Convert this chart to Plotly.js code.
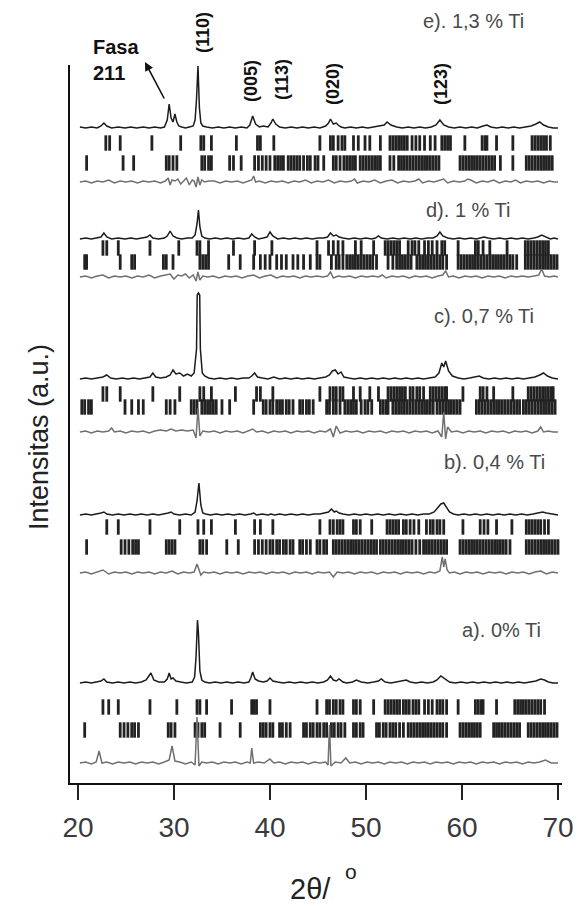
<!DOCTYPE html>
<html>
<head>
<meta charset="utf-8">
<script src="https://cdn.plot.ly/plotly-3.0.1.min.js"></script>
<style>html,body{margin:0;padding:0;background:#fff;}#chart{width:581px;height:906px;}</style>
</head>
<body>
<div id="chart"></div>
<script>
// ---------- DATA (2θ in degrees, intensity in a.u. relative to each pattern's baseline) ----------
const xTicks = [20, 30, 40, 50, 60, 70];
const sampleLabels = ['e). 1,3 % Ti', 'd). 1 % Ti', 'c). 0,7 % Ti', 'b). 0,4 % Ti', 'a). 0% Ti'];
const millerLabels = ['(110)', '(005)', '(113)', '(020)', '(123)'];
const phaseLabel = 'Fasa<br>211';

// e) 1.3 % Ti
const eObs = [[20.2,1],[20.8,0],[21.4,1],[22.0,0],[22.4,2],[22.7,5],[23.0,2],[23.5,0],[24.2,1],[24.9,0],
[25.5,1],[26.1,0],[26.8,1],[27.4,0],[28.0,1],[28.6,0],[29.0,1],[29.3,8],[29.5,24],[29.7,10],
[29.9,6],[30.1,14],[30.3,6],[30.5,2],[30.8,1],[31.2,0],[31.6,1],[32.0,2],[32.2,8],[32.35,29],
[32.5,62],[32.65,20],[32.8,5],[33.0,2],[33.4,1],[34.0,0],[34.6,1],[35.2,0],[35.8,1],[36.4,0],
[37.0,1],[37.6,0],[37.9,3],[38.2,12],[38.5,4],[38.9,1],[39.3,2],[39.8,1],[40.1,5],[40.3,9],
[40.6,4],[41.0,1],[41.6,0],[42.2,1],[42.8,0],[43.4,1],[44.0,0],[44.6,1],[45.2,0],[45.8,2],
[46.1,5],[46.3,9],[46.6,4],[46.9,5],[47.1,3],[47.4,1],[47.8,0],[48.4,1],[49.0,0],[49.6,1],
[50.2,0],[50.8,1],[51.4,2],[51.9,3],[52.2,6],[52.6,3],[53.2,1],[53.8,0],[54.4,1],[55.0,0],
[55.6,1],[56.2,0],[56.8,1],[57.3,3],[57.7,8],[58.1,3],[58.6,1],[59.2,0],[59.8,1],[60.4,0],
[61.0,1],[61.6,0],[62.2,2],[62.6,3],[63.0,1],[63.6,0],[64.2,1],[64.8,0],[65.4,1],[66.0,0],
[66.6,1],[67.2,2],[67.7,4],[68.1,6],[68.5,3],[69.0,1],[69.5,0],[70.0,0]];
const eDiff = [[20.2,0],[20.8,1],[21.4,-1],[22.0,1],[22.6,0],[23.2,2],[23.8,-1],[24.4,1],[25.0,0],[25.6,1],
[26.2,-1],[26.8,1],[27.4,0],[28.0,1],[28.6,-1],[29.1,1],[29.4,4],[29.6,-3],[29.8,2],[30.1,1],
[30.4,3],[30.7,-2],[31.0,1],[31.3,4],[31.6,-3],[31.9,2],[32.1,1],[32.3,-5],[32.5,5],[32.7,-3],
[32.9,2],[33.2,0],[33.6,1],[34.2,1],[34.8,-1],[35.4,1],[36.0,0],[36.6,1],[37.2,-1],[37.8,1],
[38.1,2],[38.3,6],[38.5,0],[38.9,1],[39.5,-1],[40.1,1],[40.7,0],[41.3,1],[41.9,-1],[42.5,1],
[43.1,0],[43.7,2],[44.3,-1],[44.9,1],[45.5,0],[46.1,2],[46.7,-1],[47.3,1],[47.9,0],[48.5,1],
[48.8,3],[49.1,-1],[49.7,1],[50.3,0],[50.9,2],[51.5,-1],[52.1,1],[52.7,2],[53.3,-1],[53.9,1],
[54.5,0],[55.1,1],[55.5,3],[55.9,-1],[56.5,1],[57.1,0],[57.7,2],[58.1,3],[58.5,-1],[59.1,1],
[59.7,0],[60.3,1],[60.6,3],[60.9,2],[61.5,-1],[62.1,1],[62.7,0],[63.3,2],[63.9,-1],[64.5,1],
[65.1,0],[65.6,2],[66.1,-1],[66.7,1],[67.3,0],[67.9,1],[68.5,-1],[69.1,1],[69.6,0],[70.0,0]];
const eRow1 = [22.9,23.3,24.4,27.7,30.7,32.8,33.1,33.9,36.5,38.7,39.0,40.4,45.2,46.3,46.6,47.1,47.5,47.8,48.7,49.2,
49.9,50.4,51.5,52.5,52.8,53.1,53.4,53.7,54.0,54.3,54.8,55.2,55.6,56.1,56.7,57.2,57.9,58.2,58.5,58.8,
60.3,62.1,62.4,62.6,63.6,65.3,67.3,67.6,67.9,68.2,68.5,68.8,69.2];
const eRow2 = [20.9,24.7,25.8,29.2,29.5,29.9,30.3,32.9,33.2,33.6,33.9,35.8,36.2,37.0,38.4,38.8,39.2,39.6,40.0,40.5,
40.8,41.1,41.4,41.9,42.2,42.5,42.8,43.1,43.5,43.9,44.2,44.7,45.0,45.6,46.6,46.9,47.3,47.7,48.0,48.3,
48.6,48.9,49.4,49.7,50.0,50.3,50.6,50.9,51.2,51.5,52.5,52.9,53.4,53.7,54.0,54.3,54.6,54.9,55.2,55.5,
55.8,56.1,56.4,56.7,57.0,57.3,57.6,59.8,60.1,60.4,60.7,61.0,61.3,61.6,61.9,62.2,62.5,62.8,63.1,63.4,
64.0,65.3,66.7,67.0,67.3,67.6,67.9,68.2,68.5,68.8,69.1,69.4];

// d) 1 % Ti
const dObs = [[20.2,0],[20.8,1],[21.4,0],[22.0,1],[22.4,2],[22.7,6],[23.0,2],[23.5,0],[24.2,1],[24.9,0],
[25.5,1],[26.1,0],[26.8,1],[27.2,2],[27.5,4],[27.8,1],[28.4,0],[29.0,1],[29.3,3],[29.6,8],
[29.9,3],[30.3,1],[30.8,0],[31.4,1],[31.9,1],[32.2,4],[32.4,15],[32.55,29],[32.7,12],[32.9,3],
[33.2,1],[33.7,0],[34.3,1],[34.9,0],[35.5,1],[36.1,0],[36.7,1],[37.3,0],[37.8,1],[38.1,5],
[38.4,2],[38.8,0],[39.3,1],[39.7,2],[40.0,7],[40.3,3],[40.8,0],[41.4,1],[42.0,0],[42.6,1],
[43.2,0],[43.8,1],[44.4,0],[45.0,1],[45.6,1],[46.0,2],[46.3,6],[46.6,3],[46.9,4],[47.2,2],
[47.6,1],[48.2,0],[48.8,1],[49.4,0],[50.0,1],[50.6,0],[51.0,1],[51.3,3],[51.6,1],[52.2,0],
[52.8,1],[53.4,0],[54.0,1],[54.6,0],[55.2,1],[55.8,0],[56.4,1],[57.0,1],[57.4,3],[57.7,7],
[58.0,3],[58.5,1],[59.1,0],[59.7,1],[60.3,0],[60.9,1],[61.5,0],[62.0,1],[62.3,2],[62.7,1],
[63.3,0],[63.9,1],[64.5,0],[65.1,1],[65.7,0],[66.3,1],[66.9,0],[67.5,1],[67.9,2],[68.3,4],
[68.7,2],[69.2,0],[69.6,1],[70.0,0]];
const dDiff = [[20.2,0],[20.8,1],[21.4,-1],[22.0,1],[22.6,2],[23.2,-1],[23.8,1],[24.4,0],[25.0,1],[25.6,-1],
[26.2,1],[26.8,0],[27.4,2],[28.0,-1],[28.6,1],[29.2,2],[29.6,3],[30.0,-2],[30.4,2],[30.8,1],
[31.2,3],[31.6,-1],[32.0,2],[32.3,-4],[32.5,5],[32.7,-3],[33.0,1],[33.5,0],[34.1,1],[34.7,-1],
[35.3,1],[35.9,0],[36.5,1],[37.1,-1],[37.7,1],[38.3,2],[38.9,-1],[39.5,1],[40.1,2],[40.7,-1],
[41.3,1],[41.9,0],[42.5,1],[43.1,-1],[43.7,1],[44.3,0],[44.9,1],[45.5,0],[46.0,1],[46.3,5],
[46.6,-1],[47.1,1],[47.7,0],[48.3,1],[48.9,-1],[49.5,1],[50.1,0],[50.7,1],[51.3,0],[51.7,2],
[52.1,-1],[52.7,1],[53.3,0],[53.9,1],[54.5,-1],[55.1,1],[55.7,0],[56.3,1],[56.9,-1],[57.5,1],
[58.0,2],[58.3,6],[58.6,0],[59.1,1],[59.7,-1],[60.3,1],[60.9,0],[61.5,1],[62.1,-1],[62.7,1],
[63.3,0],[63.9,1],[64.5,-1],[65.1,1],[65.7,0],[66.3,1],[66.9,0],[67.5,1],[68.0,2],[68.3,8],
[68.6,1],[69.1,0],[69.6,1],[70.0,0]];
const dRow1 = [22.6,23.0,24.2,27.5,30.5,32.4,32.7,33.6,36.2,38.4,40.2,44.9,46.1,46.6,47.1,47.6,48.9,49.5,50.8,52.0,
52.3,52.6,52.9,53.2,53.5,54.4,54.8,55.1,55.5,56.1,56.5,56.9,57.4,57.9,58.2,59.6,61.4,61.7,62.2,62.9,
64.7,66.6,66.9,67.2,67.5,67.8,68.1,68.4,68.7,69.0];
const dRow2 = [20.7,20.9,24.4,25.6,25.9,28.9,29.2,29.9,32.7,33.0,33.3,33.6,35.7,36.9,38.3,39.0,39.5,40.0,40.7,41.2,
41.7,42.4,42.9,43.5,44.2,44.9,45.2,46.4,46.9,47.2,47.6,48.0,48.3,48.6,48.9,49.2,49.5,49.8,50.1,50.4,
50.7,51.1,52.3,52.8,53.2,53.5,53.8,54.1,54.4,54.7,55.3,55.6,55.9,56.2,56.5,56.8,57.1,57.4,57.7,58.0,
58.4,59.6,59.9,60.2,60.5,60.8,61.1,61.4,61.7,62.0,62.3,62.6,62.9,63.2,63.5,63.8,64.1,64.4,64.7,65.0,
65.3,65.7,66.6,66.9,67.2,67.5,67.8,68.1,68.4,68.7,69.0,69.3,69.6,69.9];

// c) 0.7 % Ti
const cObs = [[20.2,0],[20.8,1],[21.4,0],[22.0,1],[22.6,2],[23.0,4],[23.4,1],[24.0,0],[24.6,1],[25.2,0],
[25.8,1],[26.4,0],[27.0,1],[27.5,2],[27.8,6],[28.1,2],[28.6,1],[29.2,2],[29.6,4],[29.9,9],
[30.2,5],[30.6,6],[31.0,3],[31.4,5],[31.8,3],[32.1,6],[32.35,30],[32.42,84],[32.55,86],[32.68,84],
[32.75,30],[32.95,6],[33.2,3],[33.6,1],[34.2,0],[34.8,1],[35.4,0],[36.0,1],[36.6,0],[37.2,1],
[37.8,1],[38.1,3],[38.4,6],[38.7,2],[39.2,1],[39.8,0],[40.4,2],[41.0,0],[41.6,1],[42.2,0],
[42.8,1],[43.4,0],[44.0,1],[44.6,0],[45.2,1],[45.8,2],[46.2,4],[46.5,8],[46.8,9],[47.1,5],
[47.4,7],[47.7,2],[48.2,1],[48.8,0],[49.4,1],[50.0,0],[50.6,1],[51.2,0],[51.8,1],[52.4,0],
[53.0,1],[53.6,0],[54.2,1],[54.8,0],[55.4,1],[56.0,0],[56.6,1],[57.2,2],[57.6,6],[57.9,16],
[58.1,12],[58.3,18],[58.6,8],[59.0,3],[59.6,1],[60.2,0],[60.8,1],[61.4,2],[61.8,3],[62.2,1],
[62.8,0],[63.4,1],[64.0,0],[64.6,1],[65.2,0],[65.8,1],[66.4,0],[67.0,1],[67.6,2],[68.1,4],
[68.5,6],[68.9,3],[69.4,1],[70.0,0]];
const cDiff = [[20.2,0],[20.8,1],[21.4,-1],[22.0,1],[22.6,0],[23.2,1],[23.5,4],[23.8,0],[24.4,1],[25.0,-1],
[25.6,1],[26.2,0],[26.8,1],[27.4,-1],[28.0,1],[28.6,2],[29.2,1],[29.7,3],[30.2,1],[30.8,2],
[31.4,1],[32.0,2],[32.3,-6],[32.5,24],[32.7,-4],[33.0,1],[33.6,0],[34.2,1],[34.8,-1],[35.4,1],
[36.0,0],[36.6,1],[37.2,-1],[37.8,1],[38.2,3],[38.6,0],[39.2,1],[39.8,-1],[40.4,1],[41.0,0],
[41.6,1],[42.2,-1],[42.8,1],[43.4,0],[44.0,1],[44.6,-1],[45.2,1],[45.8,0],[46.3,3],[46.6,-5],
[46.9,6],[47.3,-1],[47.9,1],[48.5,0],[49.1,1],[49.7,-1],[50.3,1],[50.9,0],[51.5,1],[52.1,-1],
[52.7,1],[53.3,0],[53.9,1],[54.5,-1],[55.1,1],[55.7,0],[56.3,1],[56.9,-1],[57.5,1],[57.9,-5],
[58.1,20],[58.3,-7],[58.5,5],[58.9,0],[59.5,1],[60.1,-1],[60.7,1],[61.3,0],[61.9,1],[62.5,-1],
[63.1,1],[63.7,0],[64.3,1],[64.9,-1],[65.5,1],[66.1,0],[66.7,1],[67.3,-1],[67.9,1],[68.2,5],
[68.5,0],[69.0,1],[69.5,0],[70.0,0]];
const cRow1 = [22.6,23.0,24.4,27.8,30.6,32.7,33.1,33.9,36.4,38.6,39.0,40.3,45.2,46.25,46.6,46.9,47.3,47.6,48.7,49.4,
50.4,51.3,52.3,52.6,52.9,53.2,53.5,53.8,54.1,54.6,54.9,55.3,55.6,56.0,56.7,57.0,57.3,57.6,57.9,58.2,
58.4,60.1,61.9,62.2,62.6,63.3,65.3,66.9,67.2,67.5,67.8,68.1,68.4,68.7,69.0,69.3,69.5];
const cRow2 = [20.4,20.7,21.1,21.4,24.9,25.6,26.3,26.8,29.2,29.6,30.1,31.8,32.1,32.4,32.9,33.2,33.5,33.8,34.1,34.4,
35.0,35.8,38.3,39.3,39.6,40.0,40.3,40.7,41.0,41.3,41.7,42.0,42.4,43.1,43.4,43.8,44.1,44.5,45.9,46.2,
46.6,46.9,47.3,47.8,48.1,48.4,48.7,49.0,49.5,49.9,50.2,50.6,51.5,51.8,52.1,52.3,52.8,53.1,53.4,53.7,
54.0,54.3,54.6,54.9,55.2,55.5,55.8,56.1,56.4,56.7,57.0,57.4,57.7,58.0,58.3,58.6,58.9,59.2,59.5,59.8,
61.5,61.8,62.1,62.4,62.7,63.0,63.3,63.6,63.9,64.2,64.5,64.8,65.1,65.4,65.7,66.0,66.4,66.7,67.0,67.3,
67.6,67.9,68.2,68.5,68.8,69.1,69.4,69.7];

// b) 0.4 % Ti
const bObs = [[20.2,0],[20.8,1],[21.4,0],[22.0,1],[22.4,2],[22.7,3],[23.0,1],[23.6,0],[24.2,1],[24.8,0],
[25.4,1],[26.0,0],[26.6,1],[27.2,0],[27.8,1],[28.4,0],[29.0,1],[29.4,2],[29.7,3],[30.0,1],
[30.6,0],[31.2,1],[31.8,0],[32.2,3],[32.4,14],[32.6,32],[32.8,10],[33.0,2],[33.3,1],[33.8,0],
[34.4,1],[35.0,0],[35.6,1],[36.2,0],[36.8,1],[37.4,0],[38.0,1],[38.3,2],[38.6,0],[39.2,1],
[39.8,0],[40.1,1],[40.5,0],[41.0,1],[41.6,0],[42.2,1],[42.8,0],[43.4,1],[44.0,0],[44.6,1],
[45.2,1],[45.8,2],[46.1,3],[46.4,6],[46.7,3],[46.9,4],[47.2,2],[47.6,1],[48.2,0],[48.8,1],
[49.4,0],[50.0,1],[50.6,0],[51.2,1],[51.8,0],[52.4,1],[53.0,0],[53.6,1],[54.2,0],[54.8,1],
[55.4,0],[56.0,1],[56.6,1],[57.1,3],[57.5,7],[57.8,11],[58.1,12],[58.4,8],[58.7,3],[59.1,1],
[59.6,0],[60.2,1],[60.8,0],[61.4,1],[62.0,0],[62.6,1],[63.2,0],[63.8,1],[64.4,0],[65.0,1],
[65.6,0],[66.2,1],[66.8,0],[67.4,1],[68.0,2],[68.4,3],[68.8,2],[69.3,1],[70.0,0]];
const bDiff = [[20.2,0],[20.8,1],[21.4,-1],[22.0,1],[22.6,3],[23.2,-1],[23.8,1],[24.4,0],[25.0,1],[25.6,-1],
[26.2,1],[26.8,0],[27.4,1],[28.0,-1],[28.6,1],[29.2,0],[29.8,2],[30.4,-1],[31.0,1],[31.6,0],
[32.1,1],[32.4,9],[32.6,4],[32.8,-2],[33.1,1],[33.6,0],[34.2,1],[34.8,-1],[35.4,1],[36.0,0],
[36.6,1],[37.2,-1],[37.8,1],[38.4,0],[39.0,1],[39.6,-1],[40.2,1],[40.8,0],[41.4,1],[42.0,-1],
[42.6,1],[43.2,0],[43.8,1],[44.4,-1],[45.0,1],[45.6,0],[46.2,1],[46.6,-4],[47.0,1],[47.6,0],
[48.2,1],[48.8,-1],[49.4,1],[50.0,0],[50.6,1],[51.2,-1],[51.8,1],[52.4,0],[53.0,1],[53.6,-1],
[54.2,1],[54.8,0],[55.4,1],[56.0,-1],[56.6,1],[57.2,0],[57.7,2],[57.95,16],[58.1,6],[58.25,14],
[58.45,3],[58.7,0],[59.2,1],[59.8,-1],[60.4,1],[61.0,0],[61.6,1],[62.2,-1],[62.8,1],[63.4,0],
[64.0,1],[64.6,-1],[65.2,1],[65.8,0],[66.4,1],[67.0,-1],[67.6,1],[68.2,2],[68.8,-1],[69.4,1],[70.0,0]];
const bRow1 = [23.0,24.2,27.5,30.6,32.5,33.1,33.9,36.4,38.4,39.0,40.3,45.2,46.25,46.6,47.0,47.3,47.6,48.7,49.0,49.4,
50.6,52.2,52.5,52.8,53.1,53.4,53.9,54.2,54.6,55.0,55.5,56.3,56.7,57.0,57.4,57.7,58.1,60.1,61.9,62.3,
62.7,63.6,65.2,66.7,67.0,67.3,67.6,67.9,68.2,68.6,69.0];
const bRow2 = [20.9,24.5,24.9,25.3,25.7,26.0,26.3,29.2,29.5,29.8,30.1,32.7,33.0,33.4,35.5,36.7,38.4,38.8,39.2,39.6,
40.0,40.3,40.7,41.0,41.4,41.7,42.1,42.4,43.1,43.4,43.8,44.2,44.9,45.2,45.6,45.9,46.6,46.9,47.2,47.5,
47.8,48.1,48.4,48.7,49.0,49.3,49.6,49.9,50.2,50.5,50.8,51.1,51.5,51.8,52.1,52.4,52.7,53.0,53.3,53.6,
53.9,54.2,54.5,54.8,55.2,55.6,56.0,56.3,56.6,56.9,57.2,57.5,57.8,58.1,58.4,59.8,60.1,60.4,60.7,61.0,
61.3,61.6,61.9,62.2,62.5,62.8,63.1,63.4,63.7,64.0,64.3,64.6,65.0,66.7,67.0,67.3,67.6,67.9,68.2,68.5,
68.8,69.1,69.4,69.7,70.0];

// a) 0 % Ti
const aObs = [[20.2,0],[20.8,1],[21.4,0],[22.0,1],[22.4,2],[22.7,4],[23.0,1],[23.6,0],[24.2,1],[24.8,0],
[25.4,1],[26.0,0],[26.6,1],[27.1,3],[27.4,8],[27.6,10],[27.9,3],[28.4,1],[29.0,1],[29.3,4],
[29.5,10],[29.7,4],[29.9,5],[30.2,2],[30.7,1],[31.3,0],[31.9,1],[32.15,6],[32.3,26],[32.45,63],
[32.55,50],[32.7,12],[32.9,3],[33.2,1],[33.7,0],[34.3,1],[34.9,0],[35.5,1],[36.1,0],[36.7,1],
[37.3,0],[37.8,1],[38.0,5],[38.2,11],[38.45,4],[38.8,2],[39.3,1],[39.7,2],[40.0,5],[40.3,2],
[40.8,1],[41.4,0],[42.0,1],[42.6,0],[43.2,1],[43.8,0],[44.4,1],[45.0,0],[45.6,1],[46.0,3],
[46.3,7],[46.6,3],[46.9,2],[47.2,4],[47.6,1],[48.0,0],[48.6,1],[49.0,3],[49.5,1],[50.2,0],
[50.8,1],[51.3,2],[51.6,4],[52.0,1],[52.6,0],[53.2,1],[53.8,2],[54.2,3],[54.6,1],[55.2,0],
[55.8,1],[56.4,0],[57.0,1],[57.4,3],[57.8,7],[58.2,4],[58.7,1],[59.3,0],[59.9,1],[60.5,0],
[61.1,1],[61.7,0],[62.3,1],[62.9,0],[63.5,1],[64.1,0],[64.7,1],[65.3,0],[65.9,1],[66.5,0],
[67.1,1],[67.7,2],[68.2,4],[68.6,3],[69.0,1],[69.5,0],[70.0,0]];
const aDiff = [[20.2,0],[20.8,1],[21.4,-1],[21.9,1],[22.2,12],[22.5,0],[23.0,1],[23.6,-1],[24.2,1],[24.8,0],
[25.4,1],[26.0,-1],[26.6,1],[27.2,0],[27.8,1],[28.4,-1],[29.0,1],[29.5,3],[29.8,17],[30.1,2],
[30.6,1],[31.2,-1],[31.8,1],[32.2,-2],[32.4,46],[32.6,-3],[32.9,1],[33.4,0],[34.0,1],[34.6,-1],
[35.2,1],[35.8,0],[36.4,1],[37.0,-1],[37.6,1],[37.95,0],[38.1,15],[38.3,0],[38.8,1],[39.4,0],
[40.0,4],[40.4,0],[41.0,1],[41.6,-1],[42.2,1],[42.8,0],[43.4,1],[44.0,-1],[44.6,1],[45.2,0],
[45.8,1],[46.05,-2],[46.2,38],[46.35,-3],[46.8,1],[47.4,0],[47.9,5],[48.3,0],[48.9,1],[49.5,-1],
[50.1,1],[50.7,0],[51.3,1],[51.9,-1],[52.5,1],[53.1,0],[53.7,1],[54.3,-1],[54.9,1],[55.5,0],
[56.1,1],[56.7,-1],[57.3,1],[57.9,0],[58.5,1],[59.1,-1],[59.7,1],[60.3,0],[60.9,1],[61.5,-1],
[62.1,1],[62.7,0],[63.3,1],[63.9,-1],[64.5,1],[65.1,0],[65.7,1],[66.3,-1],[66.9,1],[67.5,0],
[68.1,1],[68.7,3],[69.3,0],[70.0,0]];
const aRow1 = [22.6,23.2,24.2,27.5,30.3,32.4,32.7,33.4,36.0,38.1,38.35,38.6,40.0,44.9,45.9,46.2,46.6,46.9,47.3,47.6,
48.7,49.0,49.4,50.8,52.0,52.3,52.6,52.9,53.2,53.5,53.9,54.2,54.5,54.9,55.2,55.5,56.1,56.5,56.9,57.4,
57.7,58.0,58.4,59.6,61.4,61.7,62.0,62.2,63.6,65.5,65.8,66.1,66.4,66.7,67.0,67.3,67.6,67.9,68.2,68.6];
const aRow2 = [20.7,24.4,24.8,25.2,25.6,25.9,26.3,29.4,29.7,30.1,32.2,32.5,32.9,33.2,34.8,36.9,39.0,39.3,39.6,40.0,
40.3,41.0,41.3,41.7,42.1,43.5,43.8,44.2,44.5,44.9,45.2,45.6,45.9,46.4,46.7,47.1,47.4,47.8,48.7,49.0,
49.4,49.7,51.1,51.4,51.8,52.1,52.5,52.8,53.1,53.5,53.9,54.4,54.7,55.0,55.3,55.6,55.9,56.2,56.5,56.8,
57.1,57.4,57.7,58.0,58.4,59.8,60.1,60.4,60.7,61.0,61.3,61.6,61.9,63.3,63.6,63.9,64.2,64.5,64.8,65.1,
65.4,65.7,66.0,66.9,67.2,67.5,67.8,68.1,68.4,68.7,69.0,69.3,69.6,69.9];

// ---------- LAYOUT / STYLE (positions of the stacked patterns, not data) ----------
const W = 581, H = 906;
const M = {l: 70, r: 19, t: 65, b: 123};
const plotW = W - M.l - M.r, plotH = H - M.t - M.b;
const stack = [
  {obs: eObs, diff: eDiff, r1: eRow1, r2: eRow2, o: 655, o1: 640, o2: 620, od: 601},
  {obs: dObs, diff: dDiff, r1: dRow1, r2: dRow2, o: 544, o1: 535, o2: 521, od: 506},
  {obs: cObs, diff: cDiff, r1: cRow1, r2: cRow2, o: 404, o1: 389, o2: 376, od: 351},
  {obs: bObs, diff: bDiff, r1: bRow1, r2: bRow2, o: 268, o1: 256, o2: 236, od: 210},
  {obs: aObs, diff: aDiff, r1: aRow1, r2: aRow2, o: 100, o1: 76,  o2: 53,  od: 20}
];
const obsColor = '#1c1c1c', diffColor = '#707070', tickColor = '#222';
const arial = 'Arial, Liberation Sans, sans-serif';

const traces = [];
stack.forEach(p => {
  traces.push({x: p.obs.map(v => v[0]), y: p.obs.map(v => v[1] + p.o), mode: 'lines',
    line: {color: obsColor, width: 1.5}, hoverinfo: 'skip', showlegend: false});
  traces.push({x: p.r1, y: p.r1.map(() => p.o1), mode: 'markers',
    marker: {symbol: 'line-ns', size: 11, color: tickColor, line: {width: 2.8, color: tickColor}},
    hoverinfo: 'skip', showlegend: false});
  traces.push({x: p.r2, y: p.r2.map(() => p.o2), mode: 'markers',
    marker: {symbol: 'line-ns', size: 11, color: tickColor, line: {width: 2.8, color: tickColor}},
    hoverinfo: 'skip', showlegend: false});
  traces.push({x: p.diff.map(v => v[0]), y: p.diff.map(v => v[1] + p.od), mode: 'lines',
    line: {color: diffColor, width: 1.5}, hoverinfo: 'skip', showlegend: false});
});

// helpers: pixel -> paper
const px = v => (v - M.l) / plotW;
const py = v => (H - M.b - v) / plotH;
const ann = [];
function addText(text, x, y, font, extra) {
  ann.push(Object.assign({text: text, x: px(x), y: py(y), xref: 'paper', yref: 'paper',
    xanchor: 'center', yanchor: 'middle', showarrow: false, font: font}, extra || {}));
}
const samplePos = [[473, 21], [468, 210], [484, 316], [494, 462], [501, 630]];
sampleLabels.forEach((t, i) => addText(t, samplePos[i][0], samplePos[i][1],
  {family: arial, size: 20, color: '#4a4a4a'}));
const millerPos = [[203, 33], [251, 81], [282, 80], [333, 84], [441, 84]];
millerLabels.forEach((t, i) => addText('<b>' + t + '</b>', millerPos[i][0], millerPos[i][1],
  {family: arial, size: 18, color: '#111'}, {textangle: -90}));
addText('<b>' + phaseLabel + '</b>', 91, 60, {family: arial, size: 20, color: '#111'},
  {xanchor: 'left', align: 'left'});
ann.push({text: '', x: px(145), y: py(62), xref: 'paper', yref: 'paper', showarrow: true,
  ax: 20, ay: 38, arrowhead: 2, arrowsize: 1.1, arrowwidth: 1.6, arrowcolor: '#111', standoff: 0});
addText('Intensitas (a.u.)', 39, 437, {family: arial, size: 27, color: '#222'}, {textangle: -90});
addText('2θ/', 310, 889, {family: arial, size: 29, color: '#222'});
addText('o', 351, 871, {family: arial, size: 21, color: '#222'});

const layout = {
  width: W, height: H, margin: M, paper_bgcolor: '#fff', plot_bgcolor: '#fff', showlegend: false,
  xaxis: {range: [19.17, 70.42], tickvals: xTicks, ticktext: xTicks.map(String), ticks: 'outside',
    ticklen: 15, tickwidth: 2, tickcolor: '#222', showline: true, linewidth: 2, linecolor: '#111',
    showgrid: false, zeroline: false, tickfont: {family: arial, size: 28, color: '#3a3a3a'},
    ticklabelstandoff: 3, fixedrange: true},
  yaxis: {range: [0, plotH], showline: true, linewidth: 2, linecolor: '#111', showticklabels: false,
    ticks: '', showgrid: false, zeroline: false, fixedrange: true},
  annotations: ann
};
Plotly.newPlot('chart', traces, layout, {staticPlot: true, displayModeBar: false});
</script>
</body>
</html>
